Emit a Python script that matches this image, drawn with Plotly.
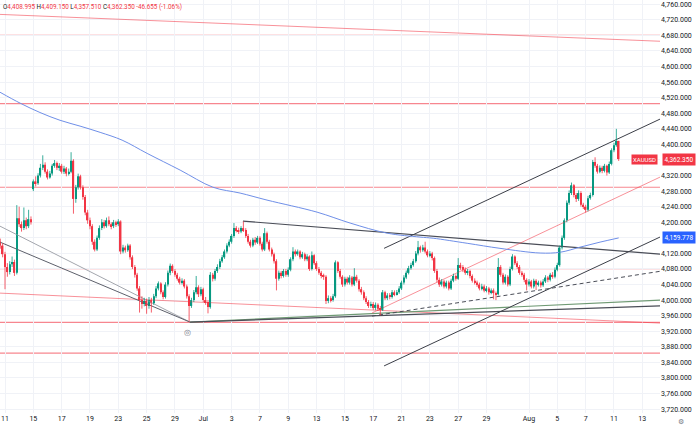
import plotly.graph_objects as go

# ---------------- data (4H bars, index 0 = first bar of Jun 11) ----------------
first_bar = -2
first_open = 4150.0
gap_opens = {12: 4285.0, 260: 4408.995}

closes = [
    4140, 4118,
    4085, 4072, 4092, 4098, 4070, 4210,
    4195, 4185, 4205, 4190, 4208, 4200,
    4305, 4300, 4320, 4340, 4348, 4330,
    4315, 4325, 4345, 4352, 4340, 4345,
    4330, 4338, 4325, 4330, 4358, 4260,
    4290, 4318, 4290, 4265, 4225, 4205,
    4190, 4150, 4130, 4160, 4185, 4200,
    4190, 4205, 4195, 4190, 4200, 4195,
    4202, 4125, 4135, 4128, 4140, 4110,
    4085, 4065, 4030, 4000, 3990, 3998,
    3985, 4000, 3992, 4010, 4030, 4043,
    4020, 4008, 4040, 4070, 4088, 4075,
    4065, 4055, 4045, 4050, 4035, 4010,
    3985, 4000, 4020, 4033, 4015, 4028,
    4000, 3995, 3982, 4065, 4055, 4075,
    4085, 4100, 4110, 4125, 4140, 4150,
    4165, 4185, 4180, 4176, 4185, 4180,
    4165, 4150, 4140, 4155, 4148, 4160,
    4145, 4130, 4172, 4150, 4130, 4118,
    4100, 4055, 4070, 4062, 4075, 4065,
    4078, 4105, 4125, 4118, 4125, 4110,
    4118, 4105, 4112, 4080, 4115, 4095,
    4080, 4070, 4062, 4060, 3998, 4005,
    4000, 4010, 4097, 4075, 4060, 4040,
    4055, 4045, 4058, 4040, 4060, 4050,
    4028, 4020, 4005, 3995, 3985, 3990,
    3980, 3988, 3978, 3975, 4020, 4005,
    4012, 4008, 4020, 4015, 4020, 4030,
    4045, 4058, 4070, 4082, 4090, 4100,
    4120, 4136, 4128, 4135, 4125, 4115,
    4120, 4108, 4075, 4052, 4040, 4048,
    4035, 4045, 4030, 4050, 4062, 4055,
    4090, 4085, 4078, 4070, 4075, 4062,
    4050, 4045, 4040, 4030, 4035, 4025,
    4030, 4020, 4025, 4018, 4015, 4085,
    4065, 4045, 4060, 4040, 4080, 4112,
    4095, 4085, 4070, 4065, 4052, 4040,
    4048, 4035, 4050, 4040, 4045, 4038,
    4048, 4058, 4052, 4065, 4060, 4078,
    4090, 4135, 4160, 4205, 4250, 4275,
    4295, 4270, 4260, 4275, 4245, 4240,
    4232, 4262, 4270, 4355, 4345, 4330,
    4340, 4332, 4345, 4328, 4350, 4385,
    4398, 4409.005, 4362.35,
]

highs = [
    4158, 4146,
    4124, 4095, 4100, 4112, 4104, 4244,
    4240, 4202, 4238, 4212, 4232, 4215,
    4310, 4318, 4326, 4350, 4372, 4354,
    4336, 4332, 4350, 4360, 4356, 4352,
    4350, 4345, 4342, 4338, 4380, 4362,
    4296, 4325, 4322, 4295, 4270, 4232,
    4212, 4195, 4156, 4166, 4192, 4208,
    4206, 4212, 4215, 4200, 4206, 4204,
    4208, 4205, 4142, 4140, 4145, 4144,
    4115, 4090, 4070, 4036, 4010, 4006,
    4004, 4008, 4006, 4016, 4036, 4048,
    4046, 4025, 4046, 4076, 4094, 4092,
    4080, 4070, 4060, 4056, 4054, 4040,
    4015, 4006, 4026, 4062, 4038, 4034,
    4032, 4008, 4000, 4072, 4070, 4080,
    4092, 4106, 4116, 4130, 4146, 4156,
    4170, 4198, 4190, 4186, 4190, 4202,
    4185, 4170, 4155, 4160, 4162, 4165,
    4164, 4150, 4185, 4176, 4155, 4135,
    4122, 4105, 4076, 4075, 4080, 4080,
    4084, 4110, 4136, 4130, 4130, 4128,
    4124, 4122, 4118, 4115, 4125, 4118,
    4100, 4085, 4075, 4068, 4064, 4012,
    4010, 4016, 4102, 4100, 4080, 4064,
    4060, 4060, 4064, 4062, 4082, 4065,
    4054, 4034, 4025, 4010, 4000, 3996,
    3995, 3994, 3992, 3985, 4026, 4024,
    4018, 4018, 4026, 4025, 4026, 4036,
    4050, 4064, 4076, 4088, 4096, 4106,
    4126, 4152, 4140, 4142, 4150, 4130,
    4126, 4124, 4112, 4080, 4058, 4054,
    4052, 4050, 4050, 4055, 4068, 4066,
    4108, 4096, 4090, 4084, 4080, 4078,
    4066, 4056, 4050, 4045, 4042, 4040,
    4036, 4034, 4030, 4030, 4022, 4108,
    4090, 4070, 4066, 4064, 4086, 4118,
    4115, 4100, 4090, 4075, 4070, 4056,
    4054, 4052, 4055, 4054, 4050, 4050,
    4054, 4064, 4062, 4070, 4072, 4084,
    4096, 4140, 4166, 4210, 4256, 4282,
    4302, 4298, 4275, 4282, 4280, 4250,
    4245, 4268, 4276, 4360, 4367, 4350,
    4346, 4345, 4350, 4348, 4356, 4390,
    4404, 4440, 4409.15,
]

lows = [
    4132, 4110,
    4028, 4060, 4066, 4085, 4062, 4066,
    4188, 4176, 4180, 4182, 4185, 4194,
    4280, 4292, 4296, 4315, 4334, 4325,
    4310, 4312, 4320, 4340, 4334, 4332,
    4325, 4324, 4318, 4320, 4326, 4222,
    4250, 4284, 4284, 4258, 4218, 4196,
    4182, 4142, 4125, 4126, 4155, 4180,
    4184, 4186, 4190, 4182, 4185, 4188,
    4190, 4118, 4120, 4122, 4124, 4104,
    4080, 4058, 4024, 3968, 3978, 3984,
    3965, 3978, 3968, 3988, 4005, 4025,
    4015, 4002, 4004, 4035, 4064, 4070,
    4060, 4050, 4040, 4040, 4030, 4004,
    3945, 3980, 3995, 4015, 4008, 4010,
    3995, 3988, 3966, 3978, 4048, 4050,
    4070, 4080, 4096, 4106, 4120, 4136,
    4145, 4160, 4174, 4170, 4172, 4175,
    4160, 4145, 4135, 4136, 4142, 4144,
    4140, 4125, 4126, 4145, 4125, 4112,
    4094, 4025, 4050, 4056, 4058, 4060,
    4060, 4074, 4100, 4112, 4114, 4105,
    4106, 4100, 4100, 4075, 4076, 4090,
    4075, 4065, 4056, 4052, 3990, 3992,
    3994, 3996, 4006, 4070, 4055, 4034,
    4035, 4040, 4040, 4035, 4036, 4045,
    4022, 4014, 4000, 3990, 3980, 3980,
    3975, 3974, 3972, 3961, 3972, 4000,
    4000, 4002, 4004, 4010, 4012, 4016,
    4026, 4040, 4054, 4066, 4078, 4086,
    4096, 4115, 4122, 4124, 4120, 4110,
    4110, 4102, 4070, 4046, 4034, 4035,
    4030, 4030, 4025, 4026, 4046, 4050,
    4052, 4078, 4072, 4065, 4064, 4056,
    4045, 4040, 4034, 4025, 4025, 4020,
    4020, 4014, 4015, 4002, 4000, 4012,
    4060, 4040, 4040, 4035, 4036, 4076,
    4090, 4080, 4065, 4060, 4046, 4025,
    4035, 4030, 4030, 4026, 4035, 4032,
    4034, 4044, 4046, 4048, 4055, 4056,
    4074, 4086, 4130, 4155, 4200, 4245,
    4270, 4264, 4252, 4255, 4240, 4234,
    4225, 4228, 4258, 4266, 4340, 4325,
    4326, 4326, 4328, 4320, 4324, 4346,
    4380, 4394, 4357.51,
]

# moving average (blue) read at a few bars
ma_bars = [-2.1, 6.4, 14.8, 23.3, 31.8, 40.3, 49.6, 60.2, 74.2, 88.1, 99.6, 111,
           132.2, 146.2, 161.9, 175.8, 181.4, 195.8, 209.7, 226.7, 235.2, 243.6, 252.1, 260]
ma_vals = [4534, 4506, 4482, 4462, 4447, 4431, 4411, 4377, 4334, 4290, 4275, 4257,
           4226, 4198, 4172, 4162, 4159, 4146, 4133, 4121, 4123, 4136, 4149, 4159.778]

# x-axis day ticks (trading-day index) and labels
tick_days = [0, 2, 4, 6, 8, 10, 12, 14, 16, 18, 20, 22, 24, 26, 28, 30, 32, 34, 37, 39, 41, 43, 45]
tick_text = ["11", "15", "17", "19", "23", "25", "29", "Jul", "3", "7", "9", "13", "15",
             "17", "21", "23", "27", "29", "Aug", "5", "7", "11", "13"]
bars_per_day = 6

# price-axis ticks; labels hidden where the price badges sit
y_ticks = list(range(3720, 4761, 40))
hidden_y_labels = [4160, 4360]

# horizontal levels
red_levels = [4680, 4505, 4290, 3943, 3864]
faint_levels = [4080]

# drawn lines: (bar indices, prices)
x_lo, x_hi = -2.12, 277.5
lines = {
    "red_top":     ([x_lo, x_hi], [4734, 4665]),
    "red_mid":     ([x_lo, x_hi], [4018, 3941]),
    "left_light":  ([x_lo, 78.4], [4190, 3943.5]),
    "left_dark":   ([x_lo, 78.4], [4149, 3943.5]),
    "base_green":  ([78.4, x_hi], [3943.5, 4000]),
    "base_dark":   ([78.4, x_hi], [3943.5, 3985]),
    "desc_high":   ([100.8, x_hi], [4203, 4118]),
    "chan_upper":  ([160.6, x_hi], [4133, 4465]),
    "chan_lower":  ([160.6, x_hi], [3831, 4162]),
    "red_support": ([155.5, x_hi], [3967, 4316]),
    "dashed":      ([155.5, x_hi], [3959, 4074]),
}
line_styles = {
    "red_top":     dict(color="rgba(242,54,69,0.55)", width=1),
    "red_mid":     dict(color="rgba(242,54,69,0.55)", width=1),
    "left_light":  dict(color="#a3a6ad", width=1),
    "left_dark":   dict(color="#5d606b", width=1),
    "base_green":  dict(color="#6f9a74", width=1.2),
    "base_dark":   dict(color="#4a4d57", width=1.2),
    "desc_high":   dict(color="#4a4d57", width=1.2),
    "chan_upper":  dict(color="#3c3f48", width=1),
    "chan_lower":  dict(color="#3c3f48", width=1),
    "red_support": dict(color="rgba(242,54,69,0.55)", width=1),
    "dashed":      dict(color="#4a4d57", width=1, dash="4px,3px"),
}

# ---------------- build OHLC ----------------
n = len(closes)
bar_idx = list(range(first_bar, first_bar + n))
opens = []
prev = first_open
for k, b in enumerate(bar_idx):
    o = gap_opens.get(b, prev)
    opens.append(o)
    prev = closes[k]
highs_f = [max(h, o, c) for h, o, c in zip(highs, opens, closes)]
lows_f = [min(l, o, c) for l, o, c in zip(lows, opens, closes)]

GREEN = "#089981"
RED = "#f23645"

up = [c >= o for o, c in zip(opens, closes)]
body_base = [min(o, c) for o, c in zip(opens, closes)]
body_h = [max(abs(c - o), 1.5) for o, c in zip(opens, closes)]
body_col = [GREEN if u else RED for u in up]


def wick_xy(want_up):
    xs, ys = [], []
    for b, h, l, u in zip(bar_idx, highs_f, lows_f, up):
        if u == want_up:
            xs += [b, b, None]
            ys += [l, h, None]
    return xs, ys


fig = go.Figure()

for name, (xs, ys) in lines.items():
    fig.add_trace(go.Scatter(x=xs, y=ys, mode="lines", line=line_styles[name],
                             hoverinfo="skip"))

fig.add_trace(go.Scatter(x=ma_bars, y=ma_vals, mode="lines",
                         line=dict(color="#6f8fe8", width=1, shape="spline"),
                         hoverinfo="skip"))

for want_up, col in ((True, GREEN), (False, RED)):
    wx, wy = wick_xy(want_up)
    fig.add_trace(go.Scatter(x=wx, y=wy, mode="lines", line=dict(color=col, width=0.8),
                             hoverinfo="skip"))

fig.add_trace(go.Bar(x=bar_idx, y=body_h, base=body_base, width=0.6,
                     marker=dict(color=body_col, line=dict(width=0)), hoverinfo="skip"))

for lv in red_levels:
    fig.add_shape(type="line", xref="paper", x0=0, x1=1, yref="y", y0=lv, y1=lv,
                  line=dict(color="rgba(242,54,69,0.6)", width=1.2), layer="below")
for lv in faint_levels:
    fig.add_shape(type="line", xref="paper", x0=0, x1=1, yref="y", y0=lv, y1=lv,
                  line=dict(color="rgba(242,54,69,0.3)", width=1), layer="below")

fig.update_layout(
    width=696, height=428,
    margin=dict(l=0, r=36, t=0, b=15),
    plot_bgcolor="white", paper_bgcolor="white",
    showlegend=False,
    font=dict(family="Roboto, Arial, sans-serif", color="#131722"),
    xaxis=dict(range=[x_lo, x_hi],
               tickvals=[d * bars_per_day for d in tick_days], ticktext=tick_text,
               tickfont=dict(size=7, color="#131722"), showgrid=True,
               gridcolor="#f0f2f7", gridwidth=1, zeroline=False, ticks="",
               showline=False),
    yaxis=dict(side="right", range=[3710, 4771], tickvals=y_ticks,
               ticktext=["" if v in hidden_y_labels else f"{v:,.3f}" for v in y_ticks],
               tickfont=dict(size=7, color="#131722"), showgrid=True,
               gridcolor="#f0f2f7", gridwidth=1, zeroline=False, ticks="",
               showline=False),
)

last = len(closes) - 1
ohlc_txt = (
    f'<span style="color:#131722">O</span>{opens[last]:,.3f} '
    f'<span style="color:#131722">H</span>{highs_f[last]:,.3f} '
    f'<span style="color:#131722">L</span>{lows_f[last]:,.3f} '
    f'<span style="color:#131722">C</span>{closes[last]:,.3f} '
    f'{closes[last] - closes[last - 1]:,.3f} '
    f'({(closes[last] - closes[last - 1]) / closes[last - 1] * 100:.2f}%)'
)
fig.add_annotation(xref="paper", yref="paper", x=0.002, y=0.983, xanchor="left",
                   yanchor="middle", text=ohlc_txt, showarrow=False,
                   font=dict(size=6.3, color=RED))

fig.add_annotation(xref="paper", yref="y", x=0.997, y=closes[last], xanchor="right",
                   yanchor="middle", text="XAUUSD", showarrow=False, bgcolor=RED,
                   font=dict(size=6, color="white"), borderpad=1)
fig.add_annotation(xref="paper", yref="y", x=1.003, y=closes[last], xanchor="left",
                   yanchor="middle", text=f"{closes[last]:,.3f}", showarrow=False,
                   bgcolor=RED, font=dict(size=6.5, color="white"), borderpad=1.5)
fig.add_annotation(xref="paper", yref="y", x=1.003, y=ma_vals[-1], xanchor="left",
                   yanchor="middle", text=f"{ma_vals[-1]:,.3f}", showarrow=False,
                   bgcolor="#2962ff", font=dict(size=6.5, color="white"), borderpad=1.5)

fig.add_annotation(xref="x", yref="y", x=77.5, y=3918, text="◎", showarrow=False,
                   font=dict(size=8, color="#787b86"))
fig.add_annotation(xref="paper", yref="paper", x=1.039, y=-0.021, yanchor="middle",
                   text="⚙", showarrow=False, font=dict(size=7, color="#787b86"))

fig.write_html("out.html", config={"displayModeBar": False},
               post_script="document.body.style.margin='0';document.body.style.padding='0';")
